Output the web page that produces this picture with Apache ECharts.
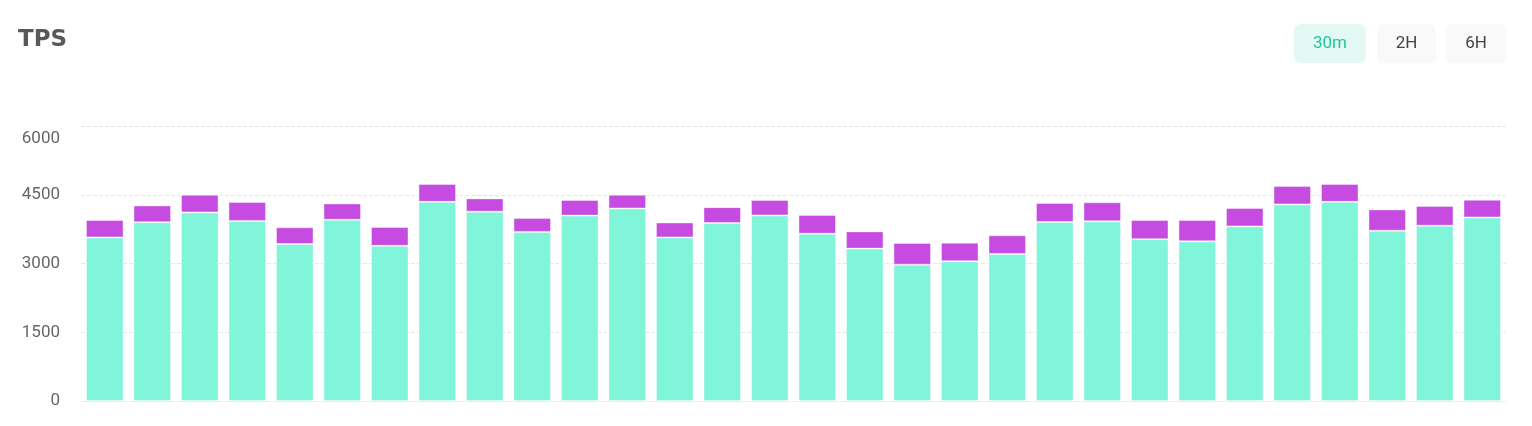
<!DOCTYPE html>
<html>
<head>
<meta charset="utf-8">
<script src="https://cdn.jsdelivr.net/npm/echarts@6/dist/echarts.min.js"></script>
<style>
  html, body { margin: 0; padding: 0; background: #ffffff; }
  #chart { width: 1532px; height: 426px; }
</style>
</head>
<body>
<div id="chart"></div>
<script>
// ---- data ----
const categories = ['1','2','3','4','5','6','7','8','9','10','11','12','13','14','15',
                    '16','17','18','19','20','21','22','23','24','25','26','27','28','29','30'];
const tealValues = [3570, 3900, 4115, 3930, 3425, 3955, 3385, 4345, 4130, 3690,
                    4045, 4200, 3570, 3885, 4050, 3650, 3325, 2975, 3050, 3210,
                    3905, 3920, 3530, 3485, 3810, 4290, 4345, 3715, 3825, 4005];
const totalValues = [3950, 4265, 4500, 4340, 3790, 4310, 3795, 4735, 4420, 3995,
                     4385, 4500, 3895, 4230, 4385, 4060, 3700, 3450, 3455, 3615,
                     4320, 4335, 3950, 3950, 4210, 4690, 4735, 4180, 4255, 4390];
const purpleValues = totalValues.map((t, i) => t - tealValues[i]);
const yTicks = [0, 1500, 3000, 4500, 6000];
const titleText = 'TPS';
const buttons = ['30m', '2H', '6H'];

// ---- chart ----
const chart = echarts.init(document.getElementById('chart'), null, { renderer: 'canvas' });

const btnGeom = [
  { x: 1294, w: 72, fill: '#e4f9f3', color: '#1ec79d' },
  { x: 1377, w: 59, fill: '#f9f9f9', color: '#454545' },
  { x: 1446, w: 60, fill: '#f9f9f9', color: '#454545' }
];
const graphics = [];
buttons.forEach((label, i) => {
  const g = btnGeom[i];
  graphics.push({
    type: 'group',
    left: g.x, top: 24,
    children: [
      { type: 'rect', shape: { x: 0, y: 0, width: g.w, height: 39, r: 7 },
        style: { fill: g.fill } },
      { type: 'text', x: g.w / 2, y: 19.5,
        style: { text: label, fill: g.color, font: '17px Roboto',
                 textAlign: 'center', textVerticalAlign: 'middle' } }
    ]
  });
});

const yMax = yTicks[yTicks.length - 1];

chart.setOption({
  animation: false,
  backgroundColor: '#ffffff',
  title: {
    text: titleText,
    left: 13, top: 24,
    textStyle: { fontFamily: 'DejaVu Sans', fontWeight: 'bold', fontSize: 23, color: '#595959' }
  },
  graphic: graphics,
  grid: { left: 81, right: 26, top: 126, bottom: 25, containLabel: false, outerBoundsMode: 'none' },
  xAxis: {
    type: 'category',
    data: categories,
    axisLine: { show: true, lineStyle: { color: '#eeeeee', width: 1 } },
    axisTick: { show: false },
    axisLabel: { show: false },
    splitLine: { show: false }
  },
  yAxis: {
    type: 'value',
    min: yTicks[0],
    max: yMax,
    interval: yTicks[1] - yTicks[0],
    axisLine: { show: false },
    axisTick: { show: false },
    axisLabel: {
      color: '#666666',
      fontSize: 17,
      fontFamily: 'Roboto',
      margin: 21,
      formatter: function (v) {
        return v === yMax ? '{mx|' + v + '}' : String(v);
      },
      rich: {
        mx: { padding: [26, 0, 0, 0], color: '#666666', fontSize: 17, fontFamily: 'Roboto' }
      }
    },
    splitLine: { show: true, lineStyle: { color: '#e6e6e6', type: 'dashed', width: 1 } }
  },
  series: [
    {
      name: 'teal',
      type: 'bar',
      stack: 'tps',
      data: tealValues,
      barCategoryGap: '21%',
      itemStyle: { color: '#80f5d9', borderColor: 'rgba(255,255,255,0.4)', borderWidth: 1 }
    },
    {
      name: 'purple',
      type: 'bar',
      stack: 'tps',
      data: purpleValues,
      barCategoryGap: '21%',
      itemStyle: { color: '#c64be0', borderColor: 'rgba(255,255,255,0.4)', borderWidth: 1 }
    }
  ]
});
</script>
</body>
</html>
